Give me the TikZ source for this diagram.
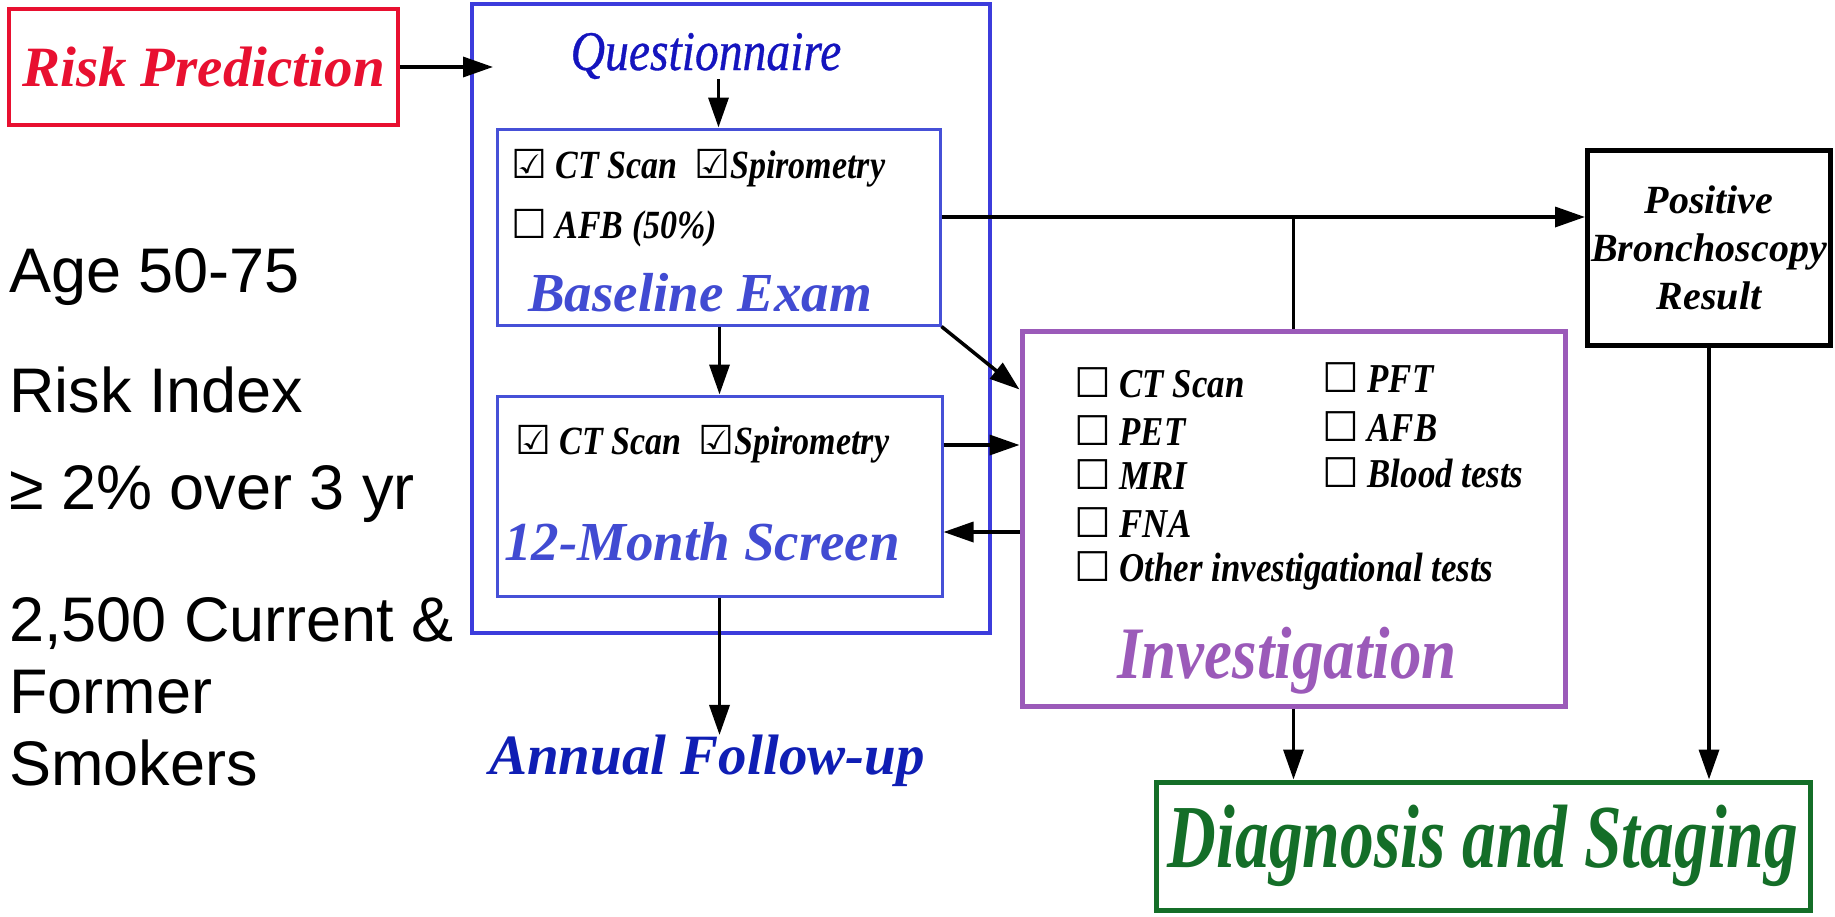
\documentclass[tikz,border=0pt]{standalone}
\usepackage{fontspec}
\setmainfont{Liberation Serif}
\newfontfamily\arialf{Liberation Sans}
\newfontfamily\condf[FakeStretch=0.85]{Liberation Serif}
\newfontfamily\questf[FakeStretch=0.85,FakeBold=0.6]{Liberation Serif}
\newfontfamily\narrowf[FakeStretch=0.75]{Liberation Serif}
\newfontfamily\symf{DejaVu Sans}
\usetikzlibrary{arrows.meta,calc}
\definecolor{riskred}{RGB}{232,16,48}
\definecolor{outerblue}{RGB}{60,60,220}
\definecolor{innerblue}{RGB}{70,80,215}
\definecolor{qblue}{RGB}{20,20,190}
\definecolor{tblue}{RGB}{65,75,210}
\definecolor{ablue}{RGB}{15,30,180}
\definecolor{invpurple}{RGB}{155,90,185}
\definecolor{diaggreen}{RGB}{20,110,40}
\newcommand{\ubox}{{\symf\char"2610}}
\newcommand{\cbox}{{\symf\char"2611}}
\begin{document}
\begin{tikzpicture}[x=1pt,y=-1pt,
  frame/.style={draw, inner sep=0pt},
  arr/.style={line width=3.5pt, -{Triangle[length=30pt,width=20pt]}},
  conn/.style={line width=3.5pt},
  item/.style={anchor=west, inner sep=0pt, font=\condf\fontsize{41}{44}\selectfont\bfseries\itshape},
  bitem/.style={anchor=west, inner sep=0pt, font=\condf\fontsize{40}{44}\selectfont\bfseries\itshape},
  lefttext/.style={anchor=west, inner sep=0pt, align=left, font=\arialf\fontsize{63}{72}\selectfont},
  title/.style={inner sep=0pt, font=\fontsize{55}{60}\selectfont\bfseries\itshape}]
\useasboundingbox (0,0) rectangle (1835,916);

% left text
\node[lefttext] (age) at (9,277) {Age 50-75};
\node[lefttext] (ri) at (9,390) {Risk Index};
\node[lefttext] (pct) at (9,494) {≥ 2\% over 3 yr};
\node[lefttext] (pop) at (9,692) {2,500 Current \&\\Former\\Smokers};

% risk prediction
\node[frame, draw=riskred, line width=4pt, minimum width=389pt, minimum height=116pt,
  text=riskred, font=\fontsize{57}{60}\selectfont\bfseries\itshape] (risk) at (203.5,67) {Risk Prediction};

% screening outer box
\node[frame, draw=outerblue, line width=4pt, minimum width=518pt, minimum height=629pt] (screen) at (731,318.5) {};
\node[inner sep=0pt, text=qblue, font=\questf\fontsize{56}{60}\selectfont\itshape] (quest) at (706,56) {Questionnaire};

% baseline box
\node[frame, draw=innerblue, line width=3pt, minimum width=443pt, minimum height=196pt] (base) at (718.5,227) {};
\node[bitem] (b1) at (511,168) {\cbox\ CT Scan\ \ \cbox Spirometry};
\node[bitem] (b2) at (511,228) {\ubox\ AFB (50\%)};
\node[title, text=tblue] (bt) at (700,293) {Baseline Exam};

% 12-month box
\node[frame, draw=innerblue, line width=3pt, minimum width=445pt, minimum height=200pt] (twelve) at (719.5,496) {};
\node[bitem] (t1) at (515,444) {\cbox\ CT Scan\ \ \cbox Spirometry};
\node[title, text=tblue] (tt) at (702,542) {12-Month Screen};

% annual follow-up
\node[inner sep=0pt, text=ablue, font=\fontsize{57}{60}\selectfont\bfseries\itshape] (annual) at (707,761) {Annual Follow-up};

% investigation box
\node[frame, draw=invpurple, line width=5pt, minimum width=543pt, minimum height=375pt] (inv) at (1293.5,518.5) {};
\node[item] (i1) at (1074,383) {\ubox\ CT Scan};
\node[item] (i2) at (1074,431) {\ubox\ PET};
\node[item] (i3) at (1074,475) {\ubox\ MRI};
\node[item] (i4) at (1074,523) {\ubox\ FNA};
\node[item] (i5) at (1074,571) {\ubox\ Other investigational tests};
\node[item] (i6) at (1322,378) {\ubox\ PFT};
\node[item] (i7) at (1322,427) {\ubox\ AFB};
\node[item] (i8) at (1322,473) {\ubox\ Blood tests};
\node[inner sep=0pt, text=invpurple, font=\condf\fontsize{74}{78}\selectfont\bfseries\itshape] (it) at (1287,661) {Investigation};

% positive bronchoscopy
\node[frame, draw=black, line width=5pt, minimum width=243pt, minimum height=195pt, align=center,
  font=\fontsize{40}{48}\selectfont\bfseries\itshape] (pos) at (1709,247.5) {Positive\\Bronchoscopy\\Result};

% diagnosis
\node[frame, draw=diaggreen, line width=5pt, minimum width=654pt, minimum height=128pt,
  text=diaggreen, font=\narrowf\fontsize{90}{94}\selectfont\bfseries\itshape] (diag) at (1483,846) {Diagnosis and Staging};

% connectors
\coordinate (qin) at (493,67);
\draw[arr] (risk.east) -- (qin);
\draw[arr] (quest.south -| base.north) -- (base.north);
\draw[arr] (base.south -| twelve.north) -- (twelve.north);
\draw[arr] (twelve.south) -- (twelve.south |- annual.north);
\coordinate (hb) at ([yshift=10pt]base.east);
\draw[arr] (hb) -- (hb -| pos.west);
\draw[conn] (inv.north) -- (inv.north |- hb);
\draw[arr] (base.south east) -- ([yshift=-61pt]inv.north west);
\coordinate (ta) at ([yshift=51pt]twelve.east);
\coordinate (tb) at ([yshift=-36pt]twelve.east);
\draw[arr] (ta) -- (ta -| inv.west);
\draw[arr] (tb -| inv.west) -- (tb);
\draw[arr] (inv.south) -- (inv.south |- diag.north);
\draw[arr] (pos.south) -- (pos.south |- diag.north);
\end{tikzpicture}
\end{document}
